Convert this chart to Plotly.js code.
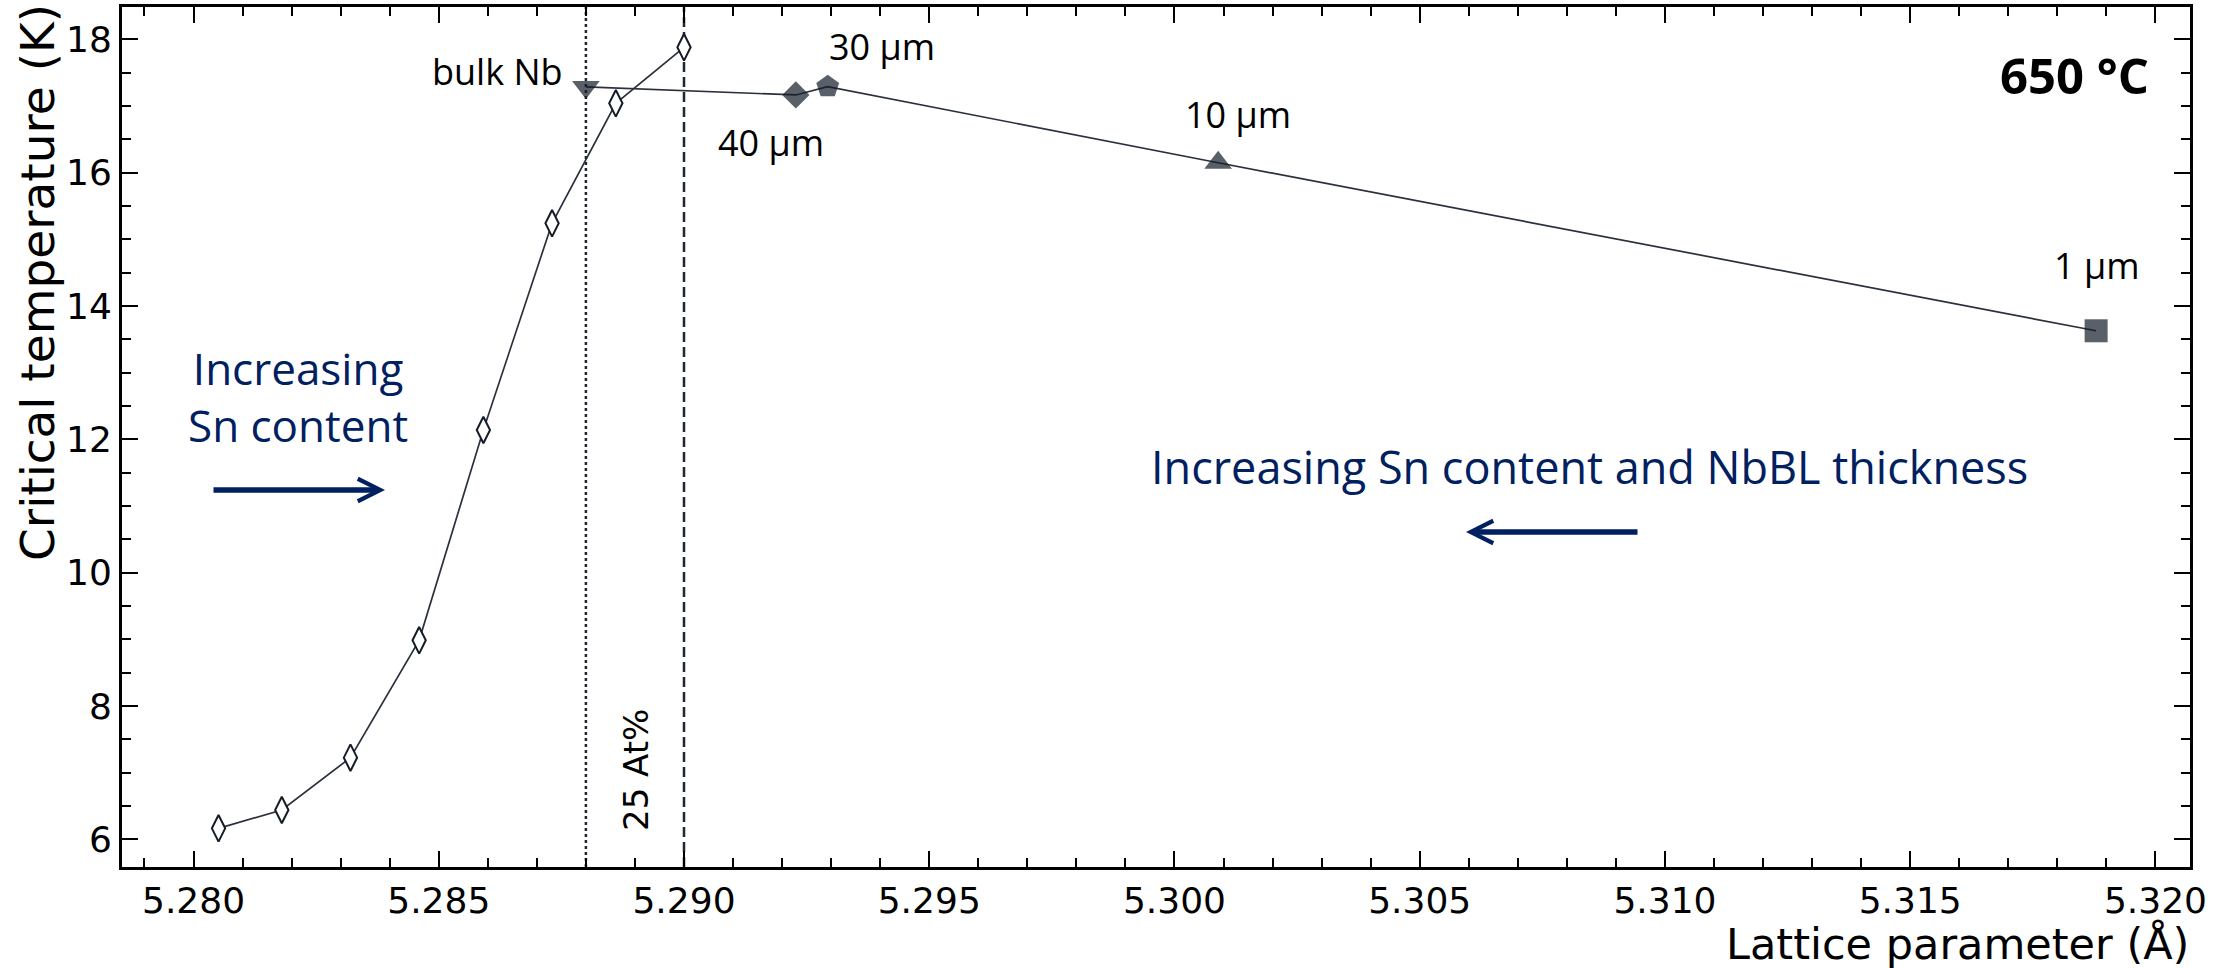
<!DOCTYPE html>
<html>
<head>
<meta charset="utf-8">
<script src="https://cdn.plot.ly/plotly-3.0.1.min.js"></script>
<style>html,body{margin:0;padding:0;background:#fff;}#chart{width:2231px;height:968px;}</style>
</head>
<body>
<div id="chart"></div>
<script>
// ---- data ----
const latticeSn = [5.28051, 5.2818, 5.2832, 5.2846, 5.28591, 5.28731, 5.28861, 5.2900];
const tcSn      = [6.165, 6.44, 7.225, 8.985, 12.14, 15.24, 17.04, 17.88];

const latticeBL = [5.2880, 5.29228, 5.29293, 5.30089, 5.31879];
const tcBL      = [17.285, 17.165, 17.29, 16.148, 13.628];
const labelsBL  = ['bulk Nb', '40 µm', '30 µm', '10 µm', '1 µm'];

const bulkNbLattice = 5.288;   // dotted reference line
const at25Lattice   = 5.290;   // dashed reference line (25 At%)

const xTitle = 'Lattice parameter (Å)';
const yTitle = 'Critical temperature (K)';
const tempLabel = '650 °C';

// ---- styling / layout ----
const W = 2231, H = 968;
const L = 122, R = 41, T = 7, B = 101;
const PW = W - L - R, PH = H - T - B;
const px = x => (x - L) / PW;
const py = y => 1 - (y - T) / PH;

const markColor = '#141c28';
const lineColor = '#2a313c';
const navy = '#002060';

const traces = [
  {
    x: latticeSn, y: tcSn, type: 'scatter', mode: 'lines+markers',
    line: {color: lineColor, width: 1.7},
    marker: {symbol: 'diamond-tall', size: 19, color: '#ffffff', line: {color: markColor, width: 2}},
    hoverinfo: 'x+y'
  },
  {
    x: latticeBL, y: tcBL, type: 'scatter', mode: 'lines+markers',
    text: labelsBL,
    line: {color: lineColor, width: 1.7},
    marker: {
      symbol: ['triangle-down', 'diamond', 'pentagon', 'triangle-up', 'square'],
      size: [24, 21, 24, 24, 23],
      color: markColor,
      line: {width: 0}
    },
    hoverinfo: 'text+x+y'
  }
];

const annFont = {family: 'Open Sans', size: 36, color: '#000000'};
const labelPos = [[497, 71], [771, 143], [882, 47], [1238, 114], [2097, 266]];

const annotations = labelsBL.map((t, i) => ({
  text: t, xref: 'paper', yref: 'paper', x: px(labelPos[i][0]), y: py(labelPos[i][1]),
  xanchor: 'center', yanchor: 'middle', showarrow: false, font: annFont
}));

annotations.push(
  {text: '<b>' + tempLabel + '</b>', xref: 'paper', yref: 'paper', x: px(2074), y: py(75),
   xanchor: 'center', yanchor: 'middle', showarrow: false, font: {family: 'Open Sans', size: 49, color: '#000'}},
  {text: 'Increasing<br>Sn content', xref: 'paper', yref: 'paper', x: px(298), y: py(396),
   xanchor: 'center', yanchor: 'middle', align: 'center', showarrow: false,
   font: {family: 'Open Sans', size: 44, color: navy}},
  {text: 'Increasing Sn content and NbBL thickness', xref: 'paper', yref: 'paper', x: px(1589), y: py(467),
   xanchor: 'center', yanchor: 'middle', showarrow: false, font: {family: 'Open Sans', size: 45, color: navy}},
  {text: '25 At%', xref: 'paper', yref: 'paper', x: px(636), y: py(770), textangle: -90,
   xanchor: 'center', yanchor: 'middle', showarrow: false, font: {family: 'DejaVu Sans', size: 34, color: '#000'}},
  {text: yTitle, xref: 'paper', yref: 'paper', x: px(37), y: py(283), textangle: -90,
   xanchor: 'center', yanchor: 'middle', showarrow: false, font: {family: 'DejaVu Sans', size: 47, color: '#000'}},
  {text: xTitle, xref: 'paper', yref: 'paper', x: px(2190), y: py(944), borderpad: 0,
   xanchor: 'right', yanchor: 'middle', showarrow: false, font: {family: 'DejaVu Sans', size: 43, color: '#000'}},
  // arrows
  {text: '', xref: 'paper', yref: 'paper', x: px(385), y: py(490), ax: -173, ay: 0,
   showarrow: true, arrowhead: 5, arrowsize: 0.8, arrowwidth: 5.5, arrowcolor: navy},
  {text: '', xref: 'paper', yref: 'paper', x: px(1466), y: py(532), ax: 173, ay: 0,
   showarrow: true, arrowhead: 5, arrowsize: 0.8, arrowwidth: 5.5, arrowcolor: navy}
);

const shapes = [
  {type: 'line', xref: 'x', yref: 'paper', x0: bulkNbLattice, x1: bulkNbLattice, y0: 0, y1: 1,
   line: {color: '#1f2733', width: 2.5, dash: '3px,3px'}, layer: 'below'},
  {type: 'line', xref: 'x', yref: 'paper', x0: at25Lattice, x1: at25Lattice, y0: 0, y1: 1,
   line: {color: '#1f2733', width: 2.5, dash: '10px,5px'}, layer: 'below'}
];

const axisCommon = {
  showline: true, linecolor: '#000', linewidth: 3, mirror: 'allticks',
  ticks: 'inside', ticklen: 16, tickwidth: 2, tickcolor: '#000',
  showgrid: false, zeroline: false,
  tickfont: {family: 'DejaVu Sans', size: 36, color: '#000'}
};

const layout = {
  width: W, height: H,
  margin: {l: L, r: R, t: T, b: B, pad: 0},
  paper_bgcolor: '#fff', plot_bgcolor: '#fff',
  showlegend: false,
  xaxis: Object.assign({}, axisCommon, {
    range: [5.278542, 5.320704], tick0: 5.28, dtick: 0.005, tickformat: '.3f',
    minor: {dtick: 0.001, ticks: 'inside', ticklen: 9, tickwidth: 2, tickcolor: '#000', showgrid: false}
  }),
  yaxis: Object.assign({}, axisCommon, {
    range: [5.585, 18.4845], tick0: 6, dtick: 2,
    minor: {dtick: 0.5, ticks: 'inside', ticklen: 9, tickwidth: 2, tickcolor: '#000', showgrid: false}
  }),
  annotations: annotations,
  shapes: shapes
};

Plotly.newPlot('chart', traces, layout, {staticPlot: true, displayModeBar: false});
</script>
</body>
</html>
